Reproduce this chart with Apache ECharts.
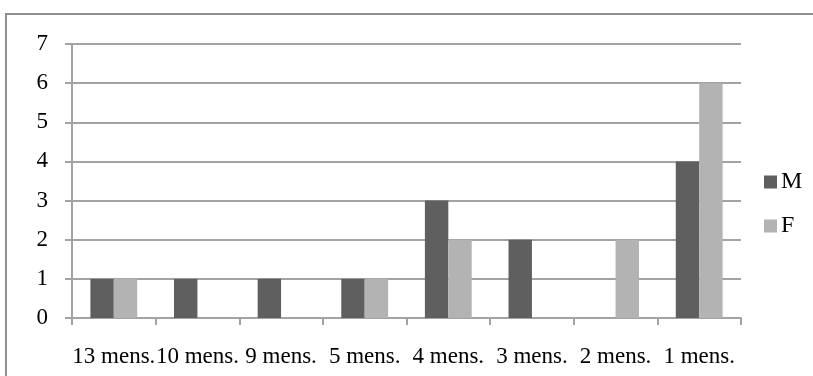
<!DOCTYPE html>
<html>
<head>
<meta charset="utf-8">
<script src="https://cdn.jsdelivr.net/npm/echarts@6/dist/echarts.min.js"></script>
<style>
  html, body { margin: 0; padding: 0; background: #fff; }
  #chart { width: 813px; height: 376px; }
</style>
</head>
<body>
<div id="chart"></div>
<script>
// Ages in months and counts per sex
const categories = ['13 mens.', '10 mens.', '9 mens.', '5 mens.', '4 mens.', '3 mens.', '2 mens.', '1 mens.'];
const maleCounts = [1, 1, 1, 1, 3, 2, 0, 4];
const femaleCounts = [1, 0, 0, 1, 2, 0, 2, 6];
const yTicks = { min: 0, max: 7, interval: 1 };

const serif = '"Liberation Serif", "DejaVu Serif", serif';
const gridColor = '#a3a3a3';

const chart = echarts.init(document.getElementById('chart'), null, { renderer: 'canvas' });
chart.setOption({
  animation: false,
  backgroundColor: '#fff',
  graphic: [{
    type: 'rect',
    shape: { x: 6, y: 14, width: 830, height: 400 },
    style: { fill: 'none', stroke: '#8e8e8e', lineWidth: 2 },
    silent: true
  }],
  grid: { left: 72, right: 72, top: 44, bottom: 58, containLabel: false },
  legend: {
    orient: 'vertical',
    left: 759,
    top: 165,
    itemWidth: 13,
    itemHeight: 13,
    itemGap: 20,
    icon: 'rect',
    textStyle: { fontFamily: serif, fontSize: 24, color: '#000', padding: [0, 0, 0, -1] },
    data: ['M', 'F']
  },
  xAxis: {
    type: 'category',
    data: categories,
    axisLine: { lineStyle: { color: gridColor, width: 2 } },
    axisTick: { show: true, alignWithLabel: false, length: 7, lineStyle: { color: gridColor, width: 2 } },
    axisLabel: { fontFamily: serif, fontSize: 23, color: '#000', margin: 27, interval: 0 }
  },
  yAxis: {
    type: 'value',
    min: yTicks.min,
    max: yTicks.max,
    interval: yTicks.interval,
    axisLine: { show: true, lineStyle: { color: gridColor, width: 2 } },
    axisTick: { show: true, inside: false, length: 7, lineStyle: { color: gridColor, width: 2 } },
    axisLabel: { fontFamily: serif, fontSize: 23, color: '#000', margin: 24, padding: [3, 0, 0, 0] },
    splitLine: { show: true, lineStyle: { color: gridColor, width: 2 } }
  },
  series: [
    {
      name: 'M', type: 'bar', data: maleCounts,
      barWidth: '28%', barGap: '0%',
      itemStyle: { color: '#5f5f5f' }
    },
    {
      name: 'F', type: 'bar', data: femaleCounts,
      barWidth: '28%', barGap: '0%',
      itemStyle: { color: '#b3b3b3' }
    }
  ]
});
</script>
</body>
</html>
